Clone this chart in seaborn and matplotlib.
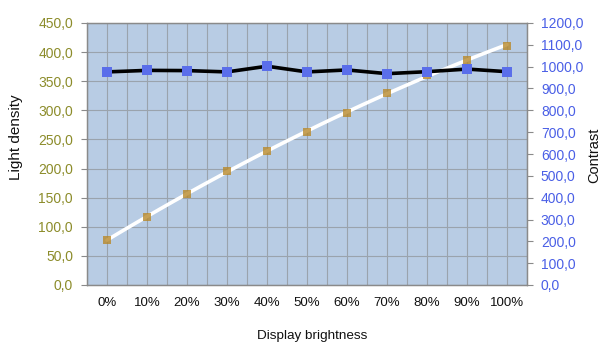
import matplotlib
matplotlib.use("Agg")
import matplotlib.pyplot as plt
import seaborn as sns
import numpy as np
import pandas as pd

# Measurements per display brightness step
brightness_labels = ["0%", "10%", "20%", "30%", "40%", "50%", "60%", "70%", "80%", "90%", "100%"]
light_density = [78, 117, 156, 195, 230, 263, 296, 329, 361, 387, 411]
contrast = [976, 983, 982, 976, 1002, 976, 985, 968, 977, 989, 977]

sns.set_theme(style="white")
plt.rcParams["font.family"] = ["Liberation Sans", "DejaVu Sans"]

df = pd.DataFrame({
    "step": np.arange(len(brightness_labels)),
    "light": light_density,
    "contrast": contrast,
})

bg = "#B8CCE4"
grid_c = "#9AA3AD"
olive = "#8C8C2A"
blue_txt = "#4A5FE6"
marker_brown = "#B8892A"
marker_blue = "#5A6EEA"

fig = plt.figure(figsize=(6.08, 3.5), dpi=100)
ax = fig.add_axes([87 / 608, 65 / 350, 440 / 608, 262 / 350])
ax.set_facecolor(bg)

# Light density with its trend curve (left axis)
sns.regplot(data=df, x="step", y="light", order=2, ci=None, ax=ax,
            marker="s",
            scatter_kws=dict(color=marker_brown, s=28, zorder=4, linewidths=0),
            line_kws=dict(color="white", lw=2.6, zorder=3))

ax.set_xlim(-0.5, len(brightness_labels) - 0.5)
ax.set_ylim(0, 450)
ax.set_yticks(np.arange(0, 451, 50))
ax.set_yticklabels([f"{v:.1f}".replace(".", ",") for v in np.arange(0, 451, 50)],
                   color=olive, fontsize=10)
ax.set_xticks(df["step"])
ax.set_xticklabels(brightness_labels, fontsize=9.5, color="#111111")
ax.set_xticks(np.arange(-0.5, len(brightness_labels), 1.0), minor=True)

ax.grid(True, which="major", color=grid_c, lw=0.8)
ax.grid(True, which="minor", axis="x", color=grid_c, lw=0.8)
ax.set_axisbelow(True)

ax.set_xlabel("Display brightness", fontsize=9.7, color="#111111")
ax.set_ylabel("Light density", fontsize=11, color="#111111")
ax.xaxis.set_label_coords(0.511, -0.172)
ax.yaxis.set_label_coords(-0.145, 0.565)

# Contrast on the secondary axis
ax2 = ax.twinx()
sns.lineplot(data=df, x="step", y="contrast", ax=ax2, color="black", lw=2.6,
             marker="s", markersize=6.5, markerfacecolor=marker_blue,
             markeredgewidth=0, zorder=5)
ax2.set_ylim(0, 1200)
ax2.set_yticks(np.arange(0, 1201, 100))
ax2.set_yticklabels([f"{v:.1f}".replace(".", ",") for v in np.arange(0, 1201, 100)],
                    color=blue_txt, fontsize=10)
ax2.set_ylabel("Contrast", fontsize=10.5, color="#111111")
ax2.yaxis.set_label_coords(1.136, 0.496)
ax2.set_xlim(-0.5, len(brightness_labels) - 0.5)

for a in (ax, ax2):
    for s in a.spines.values():
        s.set_color("#8A8A8A")
        s.set_linewidth(0.9)
    a.tick_params(axis="y", length=4, width=0.8, color="#8A8A8A", pad=6)
ax.tick_params(axis="x", which="major", length=4, width=0.8, color="#8A8A8A", pad=5)
ax.tick_params(axis="x", which="minor", length=0)

fig.savefig("out.png", dpi=100, facecolor="white")
